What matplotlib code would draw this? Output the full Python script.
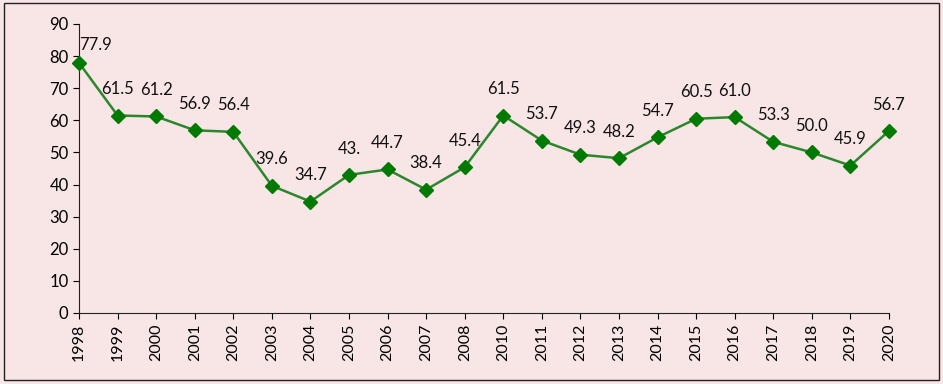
import matplotlib.pyplot as plt
from matplotlib.patches import Rectangle

years = ['1998', '1999', '2000', '2001', '2002', '2003', '2004', '2005', '2006',
         '2007', '2008', '2010', '2011', '2012', '2013', '2014', '2015', '2016',
         '2017', '2018', '2019', '2020']
values = [77.9, 61.5, 61.2, 56.9, 56.4, 39.6, 34.7, 43.0, 44.7, 38.4, 45.4,
          61.5, 53.7, 49.3, 48.2, 54.7, 60.5, 61.0, 53.3, 50.0, 45.9, 56.7]
labels = ['77.9', '61.5', '61.2', '56.9', '56.4', '39.6', '34.7', '43.', '44.7',
          '38.4', '45.4', '61.5', '53.7', '49.3', '48.2', '54.7', '60.5', '61.0',
          '53.3', '50.0', '45.9', '56.7']

plt.rcParams['font.family'] = ['Lato', 'DejaVu Sans']
bg = '#f8e5e6'

fig = plt.figure(figsize=(9.43, 3.84), dpi=100, facecolor=bg)
ax = fig.add_axes([0.0838, 0.185, 0.8589, 0.7525])
ax.set_facecolor(bg)

x = list(range(len(years)))
ax.plot(x, values, color='#2c862c', lw=1.8, marker='D', ms=7.5,
        mfc='#007a00', mec='#007a00', zorder=3, clip_on=False)

for i, (v, t) in enumerate(zip(values, labels)):
    dx, dy = (12, 13) if i == 0 else (0, 19)
    ax.annotate(t, (i, v), xytext=(dx, dy), textcoords='offset points',
                ha='center', va='center', fontsize=12, color='#111111')

ax.set_xlim(0, len(years) - 1)
ax.set_ylim(0, 90)
ax.set_yticks(range(0, 91, 10))
ax.set_xticks(x)
ax.set_xticklabels(years, rotation=90, fontsize=11.5)
ax.tick_params(axis='y', labelsize=12, direction='out', length=4)
ax.tick_params(axis='x', direction='out', length=4)
for s in ['top', 'right']:
    ax.spines[s].set_visible(False)
ax.spines['left'].set_color('#222222')
ax.spines['bottom'].set_color('#222222')

fig.patches.append(Rectangle((0.004, 0.01), 0.992, 0.982, transform=fig.transFigure,
                             fill=False, edgecolor='#222222', lw=1.0))

fig.savefig('out.png', dpi=100, facecolor=bg)
